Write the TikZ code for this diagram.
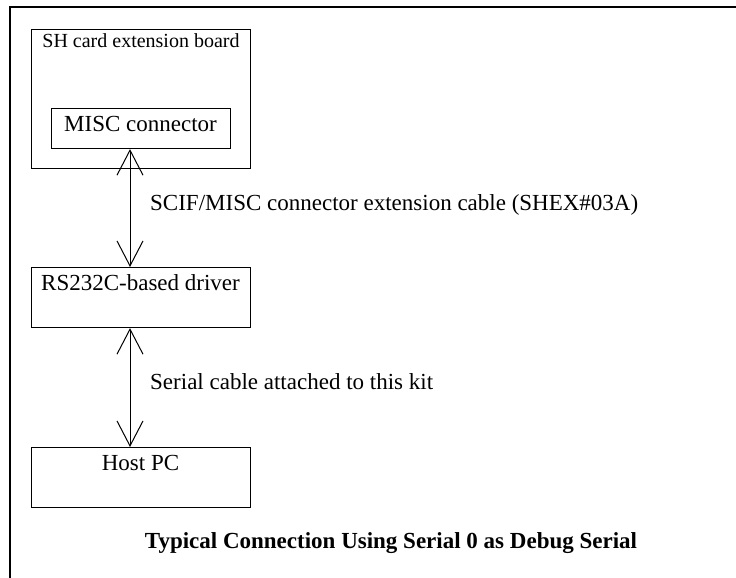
\documentclass[tikz,border=0pt]{standalone}
\usepackage{fontspec}
\setmainfont{Liberation Serif}
\usetikzlibrary{arrows.meta}
\begin{document}
\begin{tikzpicture}[x=1pt,y=-1pt,
  box/.style={draw,line width=1.1pt,inner sep=0pt,anchor=north west},
  txt/.style={inner sep=0pt,font=\fontsize{23}{27}\selectfont},
  arr/.style={line width=1pt,{Straight Barb[length=25pt,width=26pt,line width=1pt]}-{Straight Barb[length=25pt,width=26pt,line width=1pt]}}]
\useasboundingbox (0,0) rectangle (736,578);
\fill[white] (0,0) rectangle (736,578);
\begin{scope}
\clip (0,0) rectangle (736,578);
\draw[line width=1.6pt] (10,7) rectangle (800,640);
\end{scope}
% boxes
\node[box,minimum width=219pt,minimum height=139pt] (sh) at (31,29) {};
\node[box,minimum width=179pt,minimum height=40pt] (misc) at (51,108) {};
\node[box,minimum width=219pt,minimum height=60pt] (rs) at (31,267) {};
\node[box,minimum width=219pt,minimum height=60pt] (host) at (31,447) {};
% texts
\node[txt,anchor=base,font=\fontsize{20}{24}\selectfont] (sht) at (141,48) {SH card extension board};
\node[txt,anchor=base] (misct) at (140.5,131) {MISC connector};
\node[txt,anchor=base] (rst) at (140.5,290) {RS232C-based driver};
\node[txt,anchor=base] (hostt) at (140.5,470) {Host PC};
\node[txt,anchor=base west] (l1) at (150,210) {SCIF/MISC connector extension cable (SHEX\#03A)};
\node[txt,anchor=base west] (l2) at (150,389) {Serial cable attached to this kit};
\node[txt,anchor=base,font=\fontsize{23}{27}\selectfont\bfseries] (cap) at (391,548) {Typical Connection Using Serial 0 as Debug Serial};
% connectors
\coordinate (ax) at (130,0);
\draw[arr] (misc.south -| ax) -- (rs.north -| ax);
\draw[arr] (rs.south -| ax) -- (host.north -| ax);
\end{tikzpicture}
\end{document}
